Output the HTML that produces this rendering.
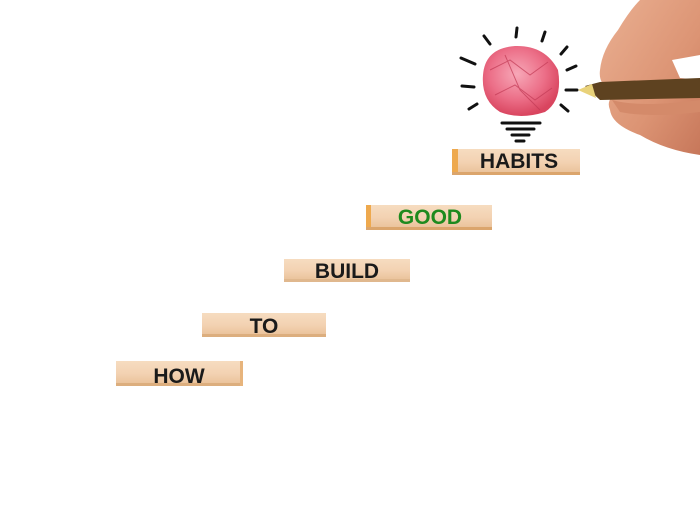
<!DOCTYPE html>
<html><head><meta charset="utf-8"><style>
html,body{margin:0;padding:0;background:#fff;width:700px;height:513px;overflow:hidden}
svg{display:block}
text{font-family:"Liberation Sans","DejaVu Sans",sans-serif;font-weight:bold;font-size:21px;text-anchor:middle}
</style></head><body>
<svg width="700" height="513" viewBox="0 0 700 513" xmlns="http://www.w3.org/2000/svg">
<defs>
<linearGradient id="wood" x1="0" y1="0" x2="0" y2="1">
<stop offset="0" stop-color="#f6dcc0"/><stop offset="0.5" stop-color="#f3d2b2"/><stop offset="1" stop-color="#e8bf95"/>
</linearGradient>
<radialGradient id="ball" cx="0.45" cy="0.4" r="0.6">
<stop offset="0" stop-color="#f7a8b8"/><stop offset="0.6" stop-color="#ec6f88"/><stop offset="1" stop-color="#d9455f"/>
</radialGradient>
<linearGradient id="skin" x1="0" y1="0" x2="1" y2="1">
<stop offset="0" stop-color="#eab092"/><stop offset="0.6" stop-color="#dc9474"/><stop offset="1" stop-color="#c7775a"/>
</linearGradient>
</defs>
<g>
<rect x="116" y="361" width="127" height="25" fill="url(#wood)"/><rect x="116" y="383" width="127" height="3" fill="#dcae7e"/><rect x="240" y="361" width="3" height="25" fill="#e7b47c"/>
<text x="179" y="383" fill="#1a1a1a">HOW</text>
<rect x="202" y="313" width="124" height="24" fill="url(#wood)"/><rect x="202" y="334" width="124" height="3" fill="#dcae7e"/>
<text x="264" y="333" fill="#1a1a1a">TO</text>
<rect x="284" y="259" width="126" height="23" fill="url(#wood)"/><rect x="284" y="279" width="126" height="3" fill="#e0b88e"/>
<text x="347" y="278" fill="#1a1a1a">BUILD</text>
<rect x="366" y="205" width="126" height="25" fill="url(#wood)"/><rect x="366" y="205" width="5" height="25" fill="#eea94e"/><rect x="366" y="227" width="126" height="3" fill="#dba56c"/>
<text x="430" y="224" fill="#1e8a1e">GOOD</text>
<rect x="452" y="149" width="128" height="26" fill="url(#wood)"/><rect x="452" y="149" width="6" height="26" fill="#eea94e"/><rect x="452" y="172" width="128" height="3" fill="#dba56c"/>
<text x="519" y="168" fill="#1a1a1a">HABITS</text>
</g>
<g stroke="#111" stroke-width="3" stroke-linecap="round">
<line x1="484" y1="36" x2="490" y2="44"/>
<line x1="517" y1="28" x2="516" y2="37"/>
<line x1="545" y1="32" x2="542" y2="41"/>
<line x1="567" y1="47" x2="561" y2="54"/>
<line x1="576" y1="66" x2="567" y2="70"/>
<line x1="577" y1="90" x2="566" y2="90"/>
<line x1="568" y1="111" x2="561" y2="105"/>
<line x1="461" y1="58" x2="475" y2="64"/>
<line x1="462" y1="86" x2="474" y2="87"/>
<line x1="469" y1="109" x2="477" y2="104"/>
<line x1="502" y1="123" x2="540" y2="123"/>
<line x1="507" y1="129" x2="534" y2="129"/>
<line x1="512" y1="135" x2="529" y2="135"/>
<line x1="516" y1="141" x2="524" y2="141"/>
</g>
<path d="M483 75 Q485 48 515 46 Q545 45 558 70 Q563 100 545 112 Q520 120 500 112 Q481 100 483 75 Z" fill="url(#ball)"/>
<g stroke="#c23a55" stroke-width="1" fill="none" opacity="0.7">
<path d="M490 70 L510 60 L530 75 L548 62"/><path d="M495 95 L515 85 L535 100 L552 88"/><path d="M505 55 L520 90 L540 110"/>
</g>
<!-- hand -->
<path d="M640 0 L700 0 L700 155 Q665 150 640 135 Q612 125 610 110 Q605 98 620 92 L612 90 Q598 85 600 70 Q602 50 618 30 Q630 10 640 0 Z" fill="url(#skin)"/>
<path d="M672 60 L700 55 L700 80 L680 78 Z" fill="#fff"/>
<path d="M585 86 L600 82 L700 78 L700 98 L600 100 Z" fill="#5e4220"/>
<path d="M578 90 L592 84 L596 98 Z" fill="#e9d27a"/>
<path d="M612 100 Q640 108 700 100 L700 112 Q650 118 620 112 Z" fill="#d48a6a"/>
</svg>
</body></html>
